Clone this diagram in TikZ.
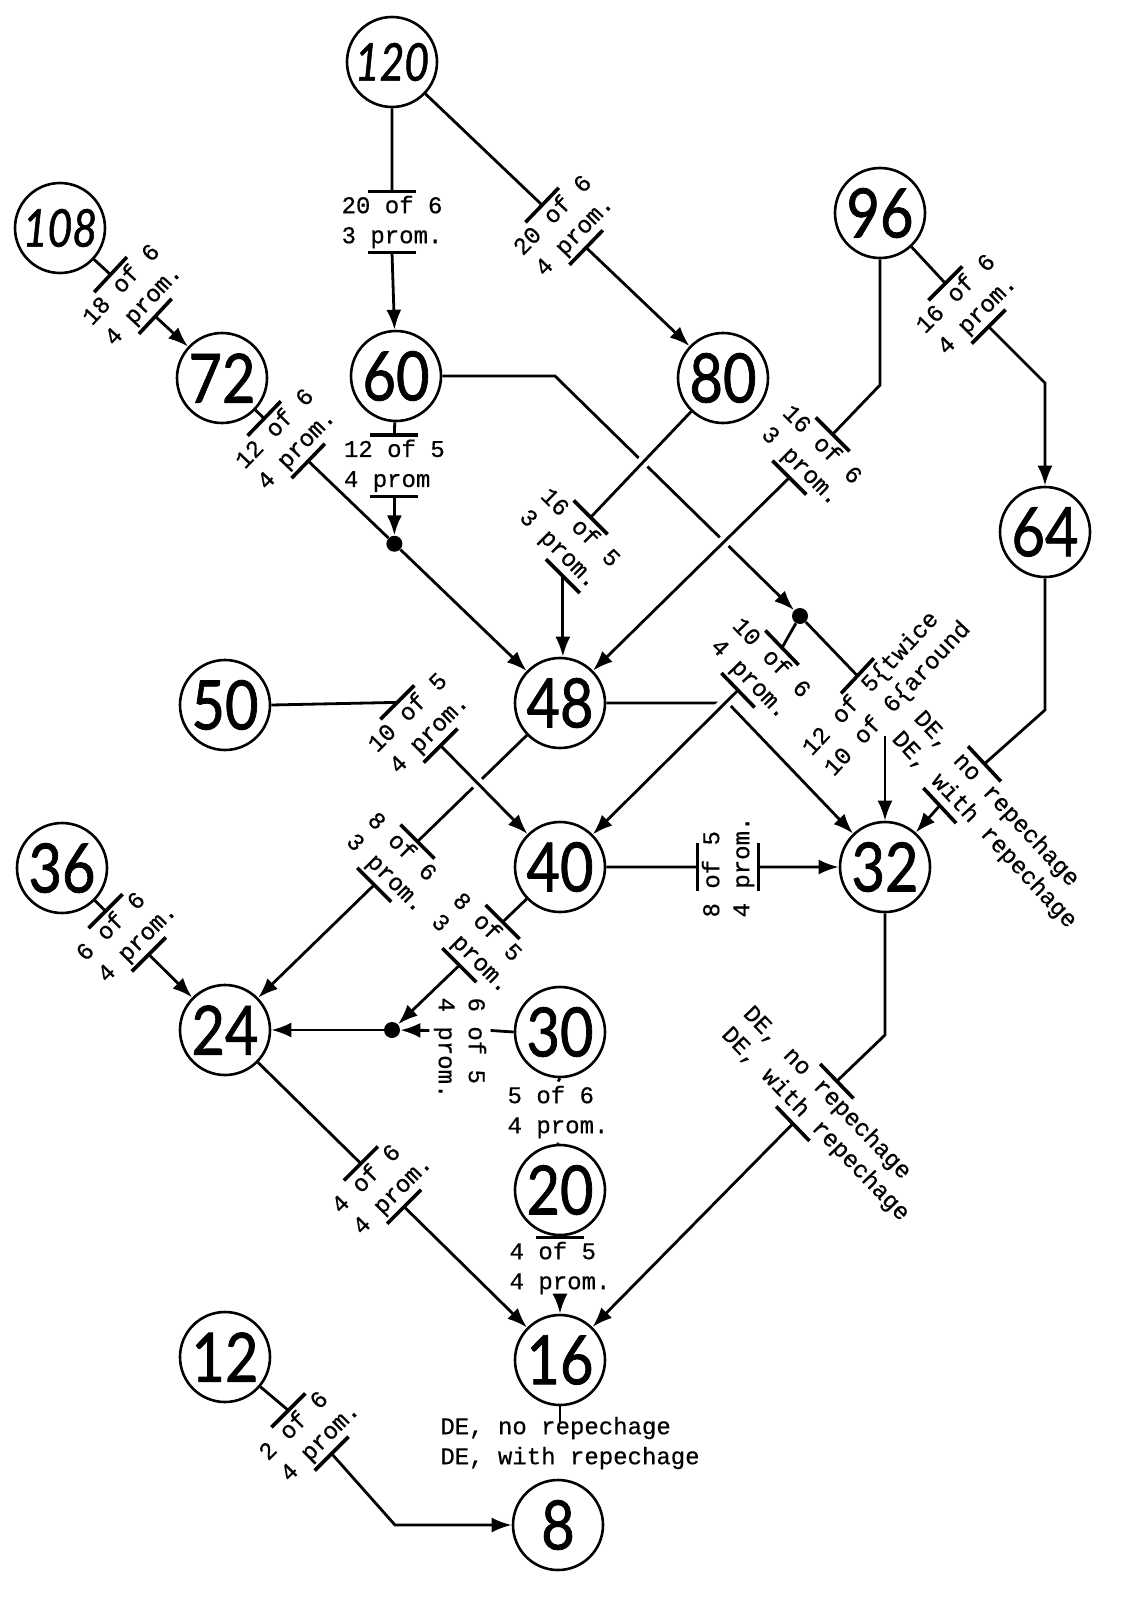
\documentclass[tikz,border=0pt]{standalone}
\usepackage{fontspec}
\setmonofont[FakeBold=0.5]{Liberation Mono}
\newfontfamily\numfont[FakeBold=1.2]{Lato}
\usepackage{graphicx}
\usetikzlibrary{calc,arrows.meta}
\pgfdeclarelayer{bg}
\pgfsetlayers{bg,main}
\tikzset{
  num/.style={circle,draw,line width=1.3pt,minimum size=45pt,inner sep=0pt,font=\numfont\fontsize{34}{34}\selectfont},
  gt/.style={font=\ttfamily\fontsize{12}{15}\selectfont,align=left,inner sep=2pt},
  ln/.style={line width=1.4pt},
  arr/.style={ln,-{Latex[length=10pt,width=7.5pt]}},
  tbar/.style={line width=1.8pt},
  over/.style={preaction={draw=white,line width=6pt,arrows=-}},
  jdot/.style={circle,fill,inner sep=0pt,minimum size=8pt},
}
\newcommand\ntwo[1]{\scalebox{0.85}[1]{#1}}
\newcommand\nthree[1]{{\fontsize{26}{26}\selectfont\itshape\scalebox{0.82}[1]{#1}}}
\newcommand\gate[5]{%
  \node[gt,rotate=#3] (#1) at (#2) {#5};
  \coordinate (#1a) at ($(#1.north west)!#4!(#1.north east)$);
  \coordinate (#1b) at ($(#1.south west)!#4!(#1.south east)$);}
\newcommand\tb[2]{\draw[tbar] ([shift={(#2:12pt)}]#1) -- ([shift={(#2:-12pt)}]#1);}
\begin{document}
\begin{tikzpicture}[x=0.5pt,y=-0.5pt]
\useasboundingbox (0,0) rectangle (1136,1611);
% circles
\node[num] (n120) at (392,62) {\nthree{120}};
\node[num] (n108) at (60,228) {\nthree{108}};
\node[num] (n96) at (880,213) {\ntwo{96}};
\node[num] (n72) at (222,378) {\ntwo{72}};
\node[num] (n60) at (396,376) {\ntwo{60}};
\node[num] (n80) at (723,378) {\ntwo{80}};
\node[num] (n64) at (1045,532) {\ntwo{64}};
\node[num] (n50) at (225,705) {\ntwo{50}};
\node[num] (n48) at (560,703) {\ntwo{48}};
\node[num] (n40) at (560,867) {\ntwo{40}};
\node[num] (n32) at (885,867) {\ntwo{32}};
\node[num] (n36) at (62,868) {\ntwo{36}};
\node[num] (n24) at (225,1030) {\ntwo{24}};
\node[num] (n30) at (560,1032) {\ntwo{30}};
\node[num] (n20) at (560,1190) {\ntwo{20}};
\node[num] (n16) at (560,1360) {\ntwo{16}};
\node[num] (n12) at (225,1357) {\ntwo{12}};
\node[num] (n8) at (558,1525) {\ntwo{8}};
% junction dots
\node[jdot] (d1) at ($(n72)!0.51!(n48)$) {};
\node[jdot] (d2) at (800,616) {};
\node[jdot] (d3) at (392,1030) {};
% gates
\gate{g1}{392,222}{0}{0.5}{20 of 6\\3 prom.}
\gate{g2}{$(n120)!0.52!(n80)$}{46}{0.5}{20 of 6\\4 prom.}
\gate{g3}{$(n108)!0.45!(n72)$}{47}{0.5}{18 of 6\\4 prom.}
\gate{g4}{$(n72)!0.19!(n48)$}{46}{0.5}{12 of 6\\4 prom.}
\gate{g5}{$(d1)+(0,-78)$}{0}{0.5}{12 of 5\\4 prom}
\gate{g7}{569,539}{-45}{0.5}{16 of 5\\3 prom.}
\gate{g8}{811,456}{-45}{0.5}{16 of 6\\3 prom.}
\gate{g9}{967,305}{45}{0.5}{16 of 6\\4 prom.}
\gate{g6}{887,689}{47}{0.45}{12 of 5\{twice\\10 of 6\{around}
\gate{g10}{995,820}{-47}{0.32}{DE, no repechage\\DE, with repechage}
\gate{g12}{760,669}{-46}{0.5}{10 of 6\\4 prom.}
\gate{g11}{728,867}{90}{0.5}{8 of 5\\4 prom.}
\gate{g13}{419,724}{45}{0.5}{10 of 5\\4 prom.}
\gate{g14}{$(n48)!0.49!(n24)$}{-45}{0.5}{8 of 6\\3 prom.}
\gate{g15}{$(n40)!0.47!(d3)$}{-45}{0.5}{8 of 5\\3 prom.}
\gate{g22}{460,1048}{-90}{0.34}{6 of 5\\4 prom.}
\gate{g17}{$(n36)!0.4!(n24)$}{45}{0.5}{6 of 6\\4 prom.}
\gate{g20}{558,1112}{0}{0.5}{5 of 6\\4 prom.}
\gate{g21}{560,1268}{0}{0.5}{4 of 5\\4 prom.}
\gate{g19}{$(n24)!0.47!(n16)$}{45}{0.5}{4 of 6\\4 prom.}
\gate{g16}{826,1114}{-46}{0.44}{DE, no repechage\\DE, with repechage}
\gate{g23}{570,1443}{0}{0.5}{DE, no repechage\\DE, with repechage}
\gate{g18}{310,1432}{45}{0.5}{2 of 6\\4 prom.}
\coordinate (g6c) at ($(g6.south west)!0.33!(g6.south east)$);
\coordinate (g7c) at ($(g7.south west)!0.7!(g7.south east)$);
% connectors
\begin{pgfonlayer}{bg}
\fill[white] (0,0) rectangle (1136,1611);
\draw[ln] (n120) -- (g1a); \draw[arr] (g1b) -- (n60);
\draw[ln] (n120) -- (g2a); \draw[arr] (g2b) -- (n80);
\draw[ln] (n108) -- (g3a); \draw[arr] (g3b) -- (n72);
\draw[ln] (n72) -- (g4a); \draw[ln] (g4b) -- (d1); \draw[arr] (d1) -- (n48);
\draw[ln] (n60) -- (g5a); \draw[arr] (g5b) -- (d1);
\draw[arr] (n60.east) -- (555,376) -- (d2);
\draw[ln] (d2) -- (g6a);
\draw[ln] (d2) -- (g12a);
\draw[arr] (n32 |- g6c) -- (n32);
\draw[arr] (n48.east) -- (728,703) -- (n32);
\draw[ln] (n48) -- (g14a); \draw[arr] (g14b) -- (n24);
\draw[ln] (n96.south) -- (880,385) -- (g8a);
\draw[ln] (n96) -- (g9a); \draw[arr] (g9b) -- (1045,383) -- (n64);
\draw[ln] (n64.south) -- (1045,710) -- (g10a); \draw[arr] (g10b) -- (n32);
\draw[ln] (n40.east) -- (g11a); \draw[arr] (g11b) -- (n32);
\draw[ln] (n50.east) -- (g13a);
\draw[ln] (n40) -- (g15a); \draw[arr] (g15b) -- (d3);
\draw[ln] (n30.west) -- (g22a); \draw[arr] (g22b) -- (d3);
\draw[arr] (d3) -- (n24);
\draw[ln] (n36) -- (g17a); \draw[arr] (g17b) -- (n24);
\draw[ln] (n24) -- (g19a); \draw[arr] (g19b) -- (n16);
\draw[ln] (n30.south) -- (g20a); \draw[ln] (g20b) -- (n20);
\draw[ln] (n20) -- (g21a); \draw[arr] (g21b) -- (n16);
\draw[ln] (n32.south) -- (885,1035) -- (g16a); \draw[arr] (g16b) -- (n16);
\draw[ln] (n16.south) -- ++(0,16);
\draw[ln] (n12) -- (g18a); \draw[arr] (g18b) -- (395,1525) -- (n8);
% lines that pass over others
\draw[ln,over] (n80) -- (g7a);
\draw[arr] (g7c) -- (g7c |- n48.north);
\draw[arr,over] (g8b) -- (n48);
\draw[arr,over] (g12b) -- (n40);
\draw[arr,over] (g13b) -- (n40);
\end{pgfonlayer}
% bars
\tb{g1a}{0}\tb{g1b}{0}
\tb{g2a}{46}\tb{g2b}{46}
\tb{g3a}{47}\tb{g3b}{47}
\tb{g4a}{46}\tb{g4b}{46}
\tb{g5a}{0}\tb{g5b}{0}
\tb{g7a}{-45}\tb{g7c}{-45}
\tb{g8a}{-45}\tb{g8b}{-45}
\tb{g9a}{45}\tb{g9b}{45}
\tb{g6a}{47}
\tb{g10a}{-47}\tb{g10b}{-47}
\tb{g12a}{-46}\tb{g12b}{-46}
\tb{g11a}{90}\tb{g11b}{90}
\tb{g13a}{45}\tb{g13b}{45}
\tb{g14a}{-45}\tb{g14b}{-45}
\tb{g15a}{-45}\tb{g15b}{-45}
\tb{g17a}{45}\tb{g17b}{45}
\tb{g19a}{45}\tb{g19b}{45}
\tb{g16a}{-46}\tb{g16b}{-46}
\tb{g18a}{45}\tb{g18b}{45}
\tb{g21a}{0}
\end{tikzpicture}
\end{document}
